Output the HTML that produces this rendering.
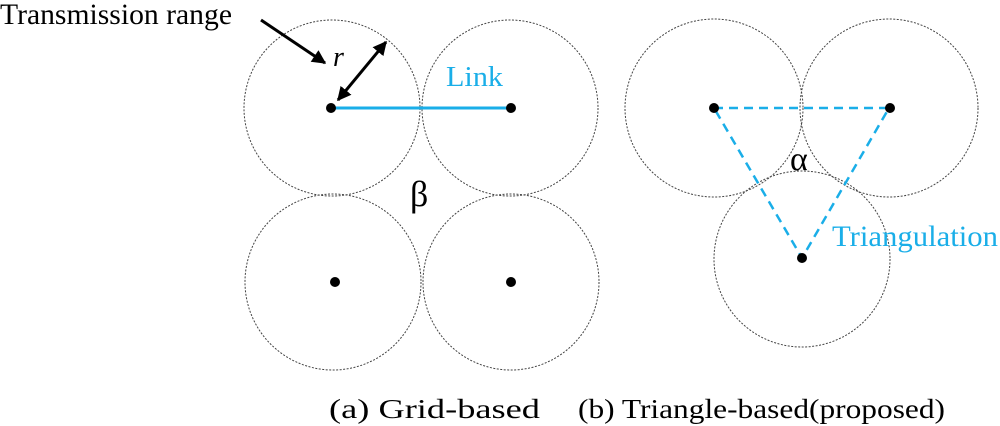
<!DOCTYPE html>
<html><head><style>body{margin:0;background:#fff}svg{display:block}</style></head><body>
<svg width="1000" height="426" viewBox="0 0 1000 426" xmlns="http://www.w3.org/2000/svg">
<defs>
<marker id="ah2" viewBox="0 0 10 10" markerWidth="14" markerHeight="14" refX="9" refY="5" orient="auto-start-reverse" markerUnits="userSpaceOnUse"><path d="M0,0 L10,5 L0,10 z" fill="#000"/></marker></defs>
<g fill="none" stroke="#444" stroke-width="1" stroke-dasharray="2,1.5">
<circle cx="332" cy="108" r="88"/><circle cx="510" cy="108" r="88"/>
<circle cx="333" cy="282" r="88"/><circle cx="511" cy="282" r="88"/>
<circle cx="714" cy="108" r="89"/><circle cx="889" cy="108" r="89"/><circle cx="802" cy="259" r="88"/>
</g>
<line x1="331" y1="108" x2="511" y2="108" stroke="#1aaee8" stroke-width="3"/>
<polygon points="714,108 889,108 802,258" fill="none" stroke="#1aaee8" stroke-width="2.5" stroke-dasharray="9,6"/>
<g fill="#000"><circle cx="331" cy="108" r="5"/><circle cx="511" cy="108" r="5"/><circle cx="335" cy="282" r="5"/><circle cx="511" cy="282" r="5"/>
<circle cx="714" cy="108" r="5"/><circle cx="890" cy="108" r="5"/><circle cx="802" cy="258" r="5"/></g>
<line x1="261" y1="20" x2="325" y2="63" stroke="#000" stroke-width="3" marker-end="url(#ah2)"/>
<line x1="338" y1="100" x2="386" y2="42" stroke="#000" stroke-width="3" marker-start="url(#ah2)" marker-end="url(#ah2)"/>
<g font-family="Liberation Serif, serif" xml:space="preserve">
<text x="0" y="24" font-size="30" textLength="232" lengthAdjust="spacingAndGlyphs">Transmission range</text>
<text x="333" y="66" font-size="28" font-style="italic">r</text>
<text x="446" y="86" font-size="28" fill="#1aaee8" textLength="57" lengthAdjust="spacingAndGlyphs">Link</text>
<text x="410" y="206" font-size="36">β</text>
<text x="790" y="170" font-size="34">α</text>
<text x="832" y="246" font-size="30" fill="#1aaee8" textLength="166" lengthAdjust="spacingAndGlyphs">Triangulation</text>
<text x="329" y="418" font-size="27" textLength="211" lengthAdjust="spacingAndGlyphs">(a)   Grid-based</text>
<text x="578" y="418" font-size="27" textLength="367" lengthAdjust="spacingAndGlyphs">(b) Triangle-based(proposed)</text>
</g>
</svg>
</body></html>
